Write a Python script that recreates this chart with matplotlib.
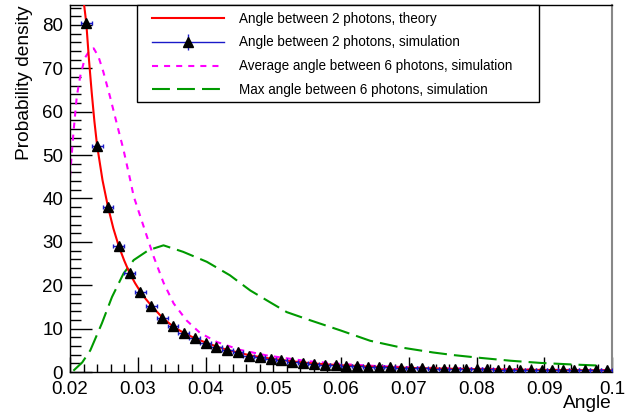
import matplotlib.pyplot as plt
from matplotlib.lines import Line2D
from matplotlib.patches import Rectangle
from matplotlib.legend_handler import HandlerTuple
from matplotlib.ticker import MultipleLocator, FixedLocator

plt.rcParams['font.family'] = ['Liberation Sans', 'DejaVu Sans']

# simulated histogram of the angle between 2 photons (bin width 0.0016)
sim_x = [0.0224, 0.0240, 0.0256, 0.0272, 0.0288, 0.0304, 0.0320, 0.0336, 0.0352, 0.0368,
         0.0384, 0.0400, 0.0416, 0.0432, 0.0448, 0.0464, 0.0480, 0.0496, 0.0512, 0.0528,
         0.0544, 0.0560, 0.0576, 0.0592, 0.0608, 0.0624, 0.0640, 0.0656, 0.0672, 0.0688,
         0.0704, 0.0720, 0.0736, 0.0752, 0.0768, 0.0784, 0.0800, 0.0816, 0.0832, 0.0848,
         0.0864, 0.0880, 0.0896, 0.0912, 0.0928, 0.0944, 0.0960, 0.0976, 0.0992]
sim_y = [80.5, 52.2, 38.1, 29.0, 22.8, 18.5, 15.3, 12.5, 10.5, 9.1,
         7.8, 6.8, 5.8, 5.1, 4.5, 3.8, 3.4, 3.1, 2.7, 2.4,
         2.1, 1.9, 1.7, 1.55, 1.45, 1.3, 1.2, 1.15, 1.05, 0.95,
         0.9, 0.85, 0.8, 0.75, 0.7, 0.66, 0.63, 0.6, 0.57, 0.54,
         0.52, 0.5, 0.47, 0.45, 0.43, 0.42, 0.4, 0.38, 0.37]
bin_half = 0.0008

# theory curve, angle between 2 photons
th_x = [0.0219, 0.0224, 0.0228, 0.0232, 0.0236, 0.0240, 0.0248, 0.0256, 0.0264, 0.0272,
        0.0280, 0.0288, 0.0296, 0.0304, 0.0312, 0.0320, 0.0336, 0.0352, 0.0368, 0.0384,
        0.0400, 0.0416, 0.0432, 0.0448, 0.0464, 0.0480, 0.0496, 0.0528, 0.0560, 0.0600,
        0.0650, 0.0700, 0.0750, 0.0800, 0.0850, 0.0900, 0.0950, 0.1000]
th_y = [87.0, 80.5, 72.0, 64.5, 57.8, 52.2, 44.2, 38.1, 33.1, 29.0,
        25.7, 22.8, 20.5, 18.5, 16.8, 15.3, 12.6, 10.5, 9.0, 7.8,
        6.8, 5.9, 5.1, 4.5, 3.9, 3.45, 3.1, 2.45, 1.95, 1.55,
        1.2, 0.95, 0.78, 0.65, 0.55, 0.47, 0.41, 0.36]

# average angle between 6 photons
avg_x = [0.0200, 0.0202, 0.0205, 0.0210, 0.0215, 0.0222, 0.0230, 0.0235, 0.0242, 0.0249,
         0.0259, 0.0269, 0.0279, 0.0289, 0.0294, 0.0313, 0.0323, 0.0338, 0.0353, 0.0372,
         0.0392, 0.0417, 0.0451, 0.0491, 0.0550, 0.0600, 0.0650, 0.0700, 0.0750, 0.0800,
         0.0850, 0.0900, 0.0950, 0.0990]
avg_y = [45.0, 49.0, 55.0, 63.5, 68.1, 72.4, 74.4, 74.6, 72.7, 69.3,
         63.5, 57.3, 51.2, 44.2, 40.5, 31.5, 26.8, 20.6, 15.8, 11.9,
         9.0, 6.9, 5.1, 3.8, 2.5, 1.85, 1.4, 1.1, 0.9, 0.75,
         0.62, 0.53, 0.46, 0.42]

# max angle between 6 photons
max_x = [0.0205, 0.0218, 0.0230, 0.0247, 0.0262, 0.0279, 0.0294, 0.0316, 0.0338, 0.0367,
         0.0402, 0.0436, 0.0466, 0.0495, 0.0520, 0.0555, 0.0599, 0.0643, 0.0687, 0.0736,
         0.0766, 0.0806, 0.0850, 0.0894, 0.0939, 0.0985]
max_y = [0.3, 2.2, 5.0, 11.2, 17.3, 22.7, 25.8, 28.1, 29.2, 27.7,
         25.4, 22.3, 18.8, 16.1, 13.8, 11.9, 9.6, 7.2, 5.7, 4.5,
         3.9, 3.25, 2.6, 2.1, 1.75, 1.45]

xticks = [0.02, 0.03, 0.04, 0.05, 0.06, 0.07, 0.08, 0.09, 0.1]
xtick_labels = ['0.02', '0.03', '0.04', '0.05', '0.06', '0.07', '0.08', '0.09', '0.1']

fig = plt.figure(figsize=(6.36, 4.15), dpi=100)
ax = fig.add_axes([70 / 636, 1 - 372 / 415, 542 / 636, 367 / 415])

red = '#ff0000'
blue = '#1a1ac8'
magenta = '#ff00ff'
green = '#009a00'

l_th, = ax.plot(th_x, th_y, color=red, lw=1.5, zorder=3)
l_avg, = ax.plot(avg_x, avg_y, color=magenta, lw=1.5, dashes=(2.9, 2.9), zorder=2)
l_max, = ax.plot(max_x, max_y, color=green, lw=1.5, dashes=(8.6, 3.4), zorder=2)
ax.errorbar(sim_x, sim_y, xerr=bin_half, fmt='none', ecolor=blue, elinewidth=1.0,
            capsize=1.5, capthick=1.0, zorder=4)
ax.plot(sim_x, sim_y, ls='none', marker='^', ms=7, color='black', zorder=5)

ax.set_xlim(0.02, 0.1)
ax.set_ylim(0, 84.6)

ax.xaxis.set_major_locator(FixedLocator(xticks))
ax.set_xticklabels(xtick_labels)
ax.xaxis.set_minor_locator(MultipleLocator(0.002))
ax.yaxis.set_major_locator(MultipleLocator(10))
ax.yaxis.set_minor_locator(MultipleLocator(2))

ax.tick_params(axis='both', which='both', direction='in', top=False, right=False,
               labelsize=13.5, width=1.0, color='black')
ax.tick_params(axis='y', which='major', length=16, pad=5)
ax.tick_params(axis='y', which='minor', length=8)
ax.tick_params(axis='x', which='major', length=11, pad=6.5)
ax.tick_params(axis='x', which='minor', length=5.5)

for side in ['left', 'bottom', 'top']:
    ax.spines[side].set_linewidth(1.0)
ax.spines['right'].set_color('#888888')
ax.spines['right'].set_linewidth(1.5)

ax.set_ylabel('Probability density', fontsize=13.8, loc='top')
ax.yaxis.set_label_coords(-0.069, 1.0)
ax.set_xlabel('Angle', fontsize=13.8, loc='right')
ax.xaxis.set_label_coords(1.0, -0.064)

# legend box
fig.patches.append(Rectangle((137 / 636, 1 - 102 / 415), 402 / 636, 97 / 415,
                             transform=fig.transFigure, facecolor='white',
                             edgecolor='black', lw=1.0, zorder=10))

# legend entry for the simulated histogram: line, error bar and marker on top of each other
h_sim = (Line2D([], [], color=blue, lw=1.0),
         Line2D([], [], ls='none', marker='|', ms=12, mew=1.0, color=blue),
         Line2D([], [], ls='none', marker='^', ms=6.5, color='black'))
h_avg = Line2D([], [], color=magenta, lw=1.5, dashes=(2.9, 2.9))
h_max = Line2D([], [], color=green, lw=1.5, dashes=(8.6, 3.4))

leg = fig.legend([l_th, h_sim, h_avg, h_max],
                 ['Angle between 2 photons, theory',
                  'Angle between 2 photons, simulation',
                  'Average angle between 6 photons, simulation',
                  'Max angle between 6 photons, simulation'],
                 handler_map={tuple: HandlerTuple(ndivide=1)},
                 loc='upper left', bbox_to_anchor=(152 / 636, 1 - 11.5 / 415),
                 borderaxespad=0, borderpad=0, fontsize=9.75, numpoints=1,
                 handlelength=5.3, handletextpad=1.1, labelspacing=0.73,
                 frameon=False)
leg.set_zorder(11)

fig.savefig('out.png', dpi=100)
